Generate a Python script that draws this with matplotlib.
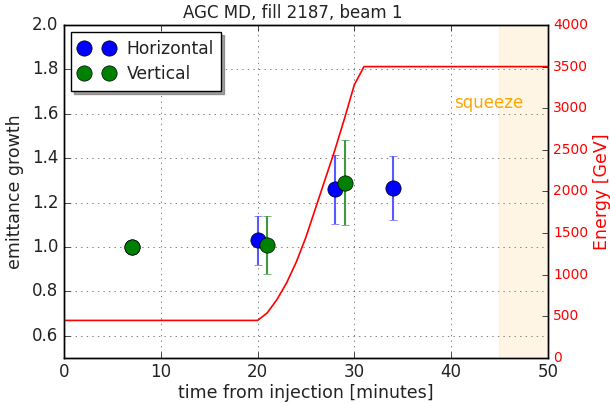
import matplotlib
matplotlib.use("Agg")
import matplotlib.pyplot as plt

plt.style.use('classic')

# emittance data
h_time = [7, 20, 28, 34]
h_growth = [1.0, 1.03, 1.26, 1.265]
h_err = [0.0, 0.11, 0.155, 0.143]

v_time = [7, 21, 29]
v_growth = [1.0, 1.01, 1.29]
v_err = [0.0, 0.13, 0.19]

# energy ramp
e_time = [0, 20, 21, 22, 23, 24, 25, 26, 27, 28, 29, 30, 31, 50]
e_energy = [450, 450, 540, 700, 900, 1150, 1450, 1800, 2150, 2500, 2880, 3280, 3500, 3500]

TXT = '#222222'

fig = plt.figure(figsize=(6.1, 4.03), dpi=100, facecolor='white')
ax = fig.add_axes([0.105, 0.112, 0.793, 0.826])
ax2 = ax.twinx()

eh = ax.errorbar(h_time, h_growth, yerr=h_err, fmt='o', color='blue', ecolor=(0.35, 0.35, 1.0),
                 elinewidth=1.5, markersize=11, capsize=3, label='Horizontal',
                 markeredgecolor='black', zorder=3)
ev = ax.errorbar(v_time, v_growth, yerr=v_err, fmt='o', color='green', ecolor=(0.25, 0.6, 0.25),
                 elinewidth=1.5, markersize=11, capsize=3, label='Vertical',
                 markeredgecolor='black', zorder=3)
ax.set_xlim(0, 50)
ax.set_ylim(0.5, 2.0)
ax.set_xticks([0, 10, 20, 30, 40, 50])
ax.set_yticks([0.6, 0.8, 1.0, 1.2, 1.4, 1.6, 1.8, 2.0])
ax.grid(True, linestyle=':', color='black', alpha=0.7)
ax.set_xlabel('time from injection [minutes]', fontsize=12.5, color=TXT, labelpad=2)
ax.set_ylabel('emittance growth', fontsize=12.5, color=TXT)
ax.yaxis.set_label_coords(-0.083, 0.5)
ax.set_title('AGC MD, fill 2187, beam 1', fontsize=12, color=TXT, x=0.473)
ax.tick_params(labelsize=12, labelcolor=TXT)
leg = ax.legend([eh.lines[0], ev.lines[0]], ['Horizontal', 'Vertical'],
                loc='upper left', numpoints=2, shadow=True, fontsize=12.3,
                borderaxespad=0.4, handlelength=2.1, labelspacing=0.45, borderpad=0.45,
                handletextpad=0.7)
for t in leg.get_texts():
    t.set_color(TXT)

ax2.plot(e_time, e_energy, color='red', lw=1.2)
ax2.axvspan(45, 50, color='orange', alpha=0.1)
ax2.text(40.3, 3000, 'squeeze', color='orange', fontsize=12)
ax2.set_ylim(0, 4000)
ax2.set_yticks(range(0, 4001, 500))
ax2.tick_params(axis='y', colors='black', labelcolor='red', labelsize=10)
ax2.set_ylabel('Energy [GeV]', color='red', fontsize=12.5)
ax2.yaxis.set_label_coords(1.094, 0.5)
ax2.set_xlim(0, 50)

fig.savefig('out.png', dpi=100, facecolor='white')
